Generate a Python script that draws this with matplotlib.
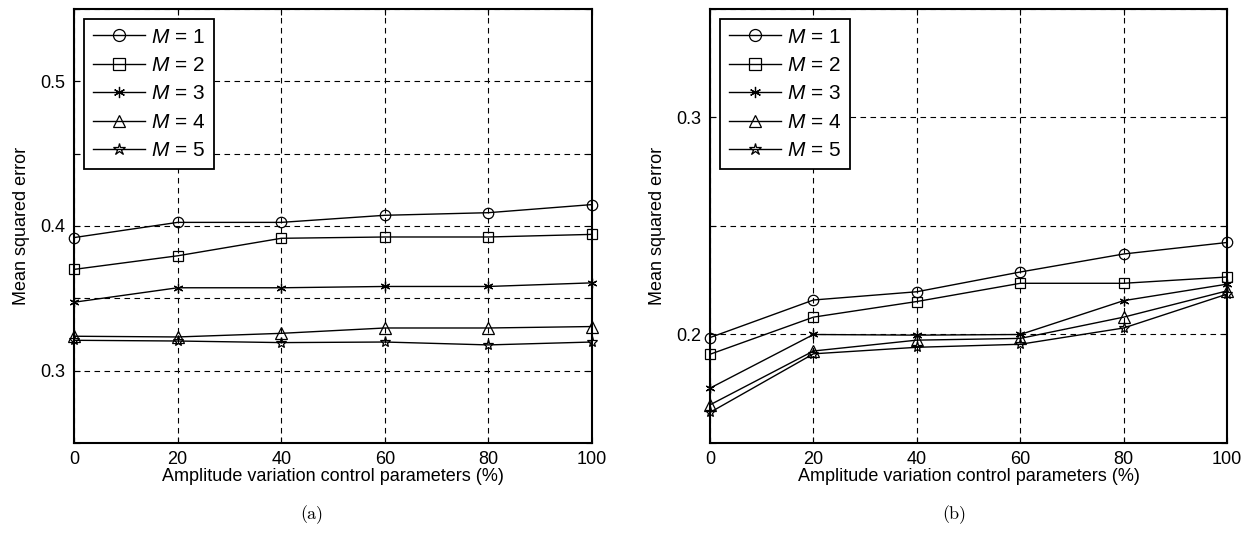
import numpy as np
import matplotlib
matplotlib.use("Agg")
from matplotlib import pyplot as plt

plt.rcParams['font.family'] = ['Liberation Sans', 'DejaVu Sans']
plt.rcParams['mathtext.fontset'] = 'custom'
plt.rcParams['mathtext.it'] = 'Liberation Sans:italic'
plt.rcParams['mathtext.rm'] = 'Liberation Sans'

# amplitude variation control parameters (%)
x = [0, 20, 40, 60, 80, 100]
labels = ['$M$ = 1', '$M$ = 2', '$M$ = 3', '$M$ = 4', '$M$ = 5']

# panel (a)
mse_a_m1 = [0.392, 0.4025, 0.4025, 0.4074, 0.4092, 0.4148]
mse_a_m2 = [0.370, 0.3794, 0.3915, 0.3924, 0.3924, 0.3942]
mse_a_m3 = [0.3473, 0.3573, 0.3573, 0.3582, 0.3582, 0.3607]
mse_a_m4 = [0.3238, 0.3233, 0.3258, 0.3295, 0.3295, 0.3305]
mse_a_m5 = [0.321, 0.3205, 0.3194, 0.3198, 0.3178, 0.3198]

# panel (b)
mse_b_m1 = [0.1986, 0.2159, 0.2197, 0.2288, 0.2371, 0.2424]
mse_b_m2 = [0.1909, 0.2080, 0.2152, 0.2236, 0.2236, 0.2265]
mse_b_m3 = [0.1753, 0.2000, 0.1997, 0.2000, 0.2156, 0.2232]
mse_b_m4 = [0.1676, 0.1924, 0.1974, 0.1982, 0.2080, 0.2201]
mse_b_m5 = [0.1641, 0.1911, 0.1941, 0.1955, 0.2030, 0.2186]

markers = ['o', 's', (6, 2, 0), '^', '*']
msizes = [7.5, 7.5, 7, 8, 8]


def draw(ax, series, ylim, yticks, ylabels):
    for i, y in enumerate(series):
        ax.plot(x, y, color='black', lw=1.0, marker=markers[i], ms=msizes[i],
                mfc='none', mec='black', mew=0.9, label=labels[i], clip_on=False)
    ax.set_xlim(0, 100)
    ax.set_ylim(*ylim)
    ax.set_xticks(x)
    ax.set_yticks(yticks)
    ax.set_yticklabels(ylabels)
    ax.grid(True, color='black', ls=(0, (5, 4)), lw=0.8)
    ax.tick_params(direction='in', length=4, labelsize=13, top=True, right=True,
                   pad=6)
    for s in ax.spines.values():
        s.set_linewidth(1.5)
    ax.set_xlabel('Amplitude variation control parameters (%)', fontsize=13, labelpad=0)
    ax.set_ylabel('Mean squared error', fontsize=13, labelpad=8)
    leg = ax.legend(loc='upper left', fontsize=15, frameon=True, fancybox=False,
                    edgecolor='black', framealpha=1, borderpad=0.4, handlelength=2.5,
                    labelspacing=0.45, handletextpad=0.3, borderaxespad=0.5,
                    markerscale=1.15)
    leg.get_frame().set_linewidth(1.3)


fig = plt.figure(figsize=(12.53, 5.48), dpi=100)
ax1 = fig.add_axes([0.0591, 0.1916, 0.4134, 0.792])
ax2 = fig.add_axes([0.5667, 0.1916, 0.4126, 0.792])

yt_a = [0.25, 0.3, 0.35, 0.4, 0.45, 0.5, 0.55]
draw(ax1, [mse_a_m1, mse_a_m2, mse_a_m3, mse_a_m4, mse_a_m5], (0.25, 0.55),
     yt_a, ['', '0.3', '', '0.4', '', '0.5', ''])
yt_b = [0.15, 0.2, 0.25, 0.3, 0.35]
draw(ax2, [mse_b_m1, mse_b_m2, mse_b_m3, mse_b_m4, mse_b_m5], (0.15, 0.35),
     yt_b, ['', '0.2', '', '0.3', ''])

fig.text(312 / 1253, 1 - 515 / 548, '(a)', ha='center', va='center', fontsize=13, family='cmr10')
fig.text(954 / 1253, 1 - 515 / 548, '(b)', ha='center', va='center', fontsize=13, family='cmr10')

fig.savefig('out.png', dpi=100)
